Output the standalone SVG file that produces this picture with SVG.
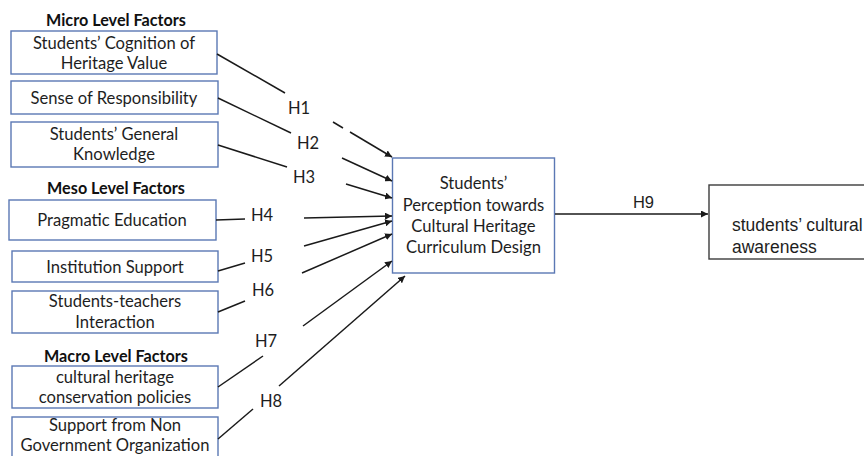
<svg xmlns="http://www.w3.org/2000/svg" width="864" height="456" viewBox="0 0 864 456">
<defs>
<marker id="ah" viewBox="0 0 10 10" refX="10" refY="5" markerWidth="7" markerHeight="7" markerUnits="userSpaceOnUse" orient="auto">
<path d="M0,0 L10,5 L0,10 z" fill="#1a1a1a"/>
</marker>
<style>
.box{fill:#fff;stroke:#5b78b4;stroke-width:1.4}
.rbox{fill:#fff;stroke:#3c3c3c;stroke-width:1.4}
.t{font-family:Lato,"Liberation Sans",sans-serif;font-size:16.6px;fill:#1e1e1e;text-anchor:middle}
.h{font-family:Lato,"Liberation Sans",sans-serif;font-size:16.2px;font-weight:bold;fill:#111;text-anchor:middle}
.lab{font-family:Lato,"Liberation Sans",sans-serif;font-size:16.5px;fill:#1e1e1e;text-anchor:middle}
.a{font-family:"Liberation Sans",Arial,sans-serif;font-size:17.5px;fill:#1e1e1e}
.ln{stroke:#1a1a1a;stroke-width:1.5;fill:none}
.ar{stroke:#1a1a1a;stroke-width:1.5;fill:none;marker-end:url(#ah)}
</style>
</defs>
<rect width="864" height="456" fill="#fff"/>

<g id="headings">
<text class="h" x="116" y="26">Micro Level Factors</text>
<text class="h" x="116" y="194">Meso Level Factors</text>
<text class="h" x="116" y="362">Macro Level Factors</text>
</g>

<g id="n1"><rect class="box" x="11" y="31" width="206" height="43"/>
<text class="t" x="114" y="49">Students’ Cognition of</text><text class="t" x="114" y="69">Heritage Value</text></g>
<g id="n2"><rect class="box" x="11" y="81" width="207" height="33"/>
<text class="t" x="114" y="104">Sense of Responsibility</text></g>
<g id="n3"><rect class="box" x="11" y="122" width="207" height="45"/>
<text class="t" x="114" y="140">Students’ General</text><text class="t" x="114" y="160">Knowledge</text></g>
<g id="n4"><rect class="box" x="9" y="200" width="207" height="40"/>
<text class="t" x="112" y="226">Pragmatic Education</text></g>
<g id="n5"><rect class="box" x="12" y="251" width="206" height="31"/>
<text class="t" x="115" y="273">Institution Support</text></g>
<g id="n6"><rect class="box" x="12" y="291" width="206" height="42"/>
<text class="t" x="115" y="307">Students-teachers</text><text class="t" x="115" y="328">Interaction</text></g>
<g id="n7"><rect class="box" x="12" y="366" width="206" height="42"/>
<text class="t" x="115" y="383">cultural heritage</text><text class="t" x="115" y="403">conservation policies</text></g>
<g id="n8"><rect class="box" x="12" y="417" width="206" height="45"/>
<text class="t" x="115" y="431">Support from Non</text><text class="t" x="115" y="451">Government Organization</text></g>

<g id="center"><rect class="box" x="392.5" y="158" width="162" height="115"/>
<text class="t" x="473.5" y="189">Students’</text>
<text class="t" x="473.5" y="211">Perception towards</text>
<text class="t" x="473.5" y="232">Cultural Heritage</text>
<text class="t" x="473.5" y="253">Curriculum Design</text></g>

<g id="outcome"><rect class="rbox" x="709" y="185" width="170" height="74"/>
<text class="a" x="732" y="231">students’ cultural</text>
<text class="a" x="732" y="253">awareness</text></g>

<g id="connectors">
<line class="ln" x1="217" y1="54" x2="285" y2="93"/>
<line class="ln" x1="333" y1="122" x2="343" y2="128"/>
<line class="ar" x1="350" y1="132" x2="392" y2="157"/>
<line class="ln" x1="218" y1="98" x2="291" y2="133"/>
<line class="ar" x1="342" y1="158" x2="392" y2="181"/>
<line class="ln" x1="218" y1="145" x2="287" y2="167"/>
<line class="ar" x1="346" y1="184" x2="392" y2="198"/>
<line class="ln" x1="216" y1="220" x2="245" y2="219"/>
<line class="ar" x1="304" y1="218" x2="392" y2="216"/>
<line class="ln" x1="218" y1="271" x2="245" y2="263"/>
<line class="ar" x1="304" y1="246" x2="392" y2="221"/>
<line class="ln" x1="218" y1="312" x2="245" y2="301"/>
<line class="ar" x1="302" y1="273" x2="392" y2="234"/>
<line class="ln" x1="218" y1="387" x2="263" y2="356"/>
<line class="ar" x1="303" y1="326" x2="392" y2="261"/>
<line class="ln" x1="218" y1="439" x2="253" y2="409"/>
<line class="ar" x1="279" y1="386" x2="405" y2="276"/>
<line class="ar" x1="555" y1="214" x2="708" y2="214"/>
</g>

<g id="labels">
<text class="lab" x="299" y="114">H1</text>
<text class="lab" x="308" y="149">H2</text>
<text class="lab" x="304" y="183">H3</text>
<text class="lab" x="262" y="221">H4</text>
<text class="lab" x="262" y="262">H5</text>
<text class="lab" x="263" y="296">H6</text>
<text class="lab" x="266" y="347">H7</text>
<text class="lab" x="271" y="407">H8</text>
<text class="a" x="643.5" y="208" text-anchor="middle" style="font-size:16.5px">H9</text>
</g>
</svg>
